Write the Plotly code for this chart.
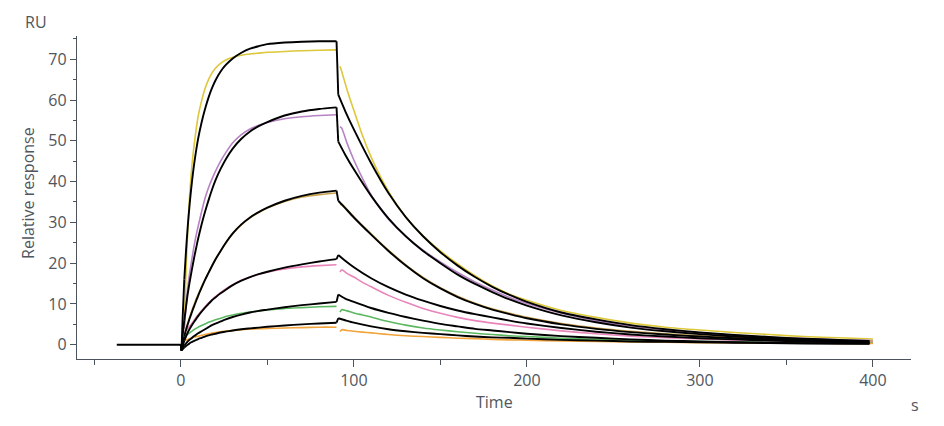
import plotly.graph_objects as go

# ---------------- data ----------------
BASE_T = [-37, 0]
BASE_V = [0, 0]

# measured (coloured) curves - association phase
T_DATA_ASSOC = [2, 3, 4, 5, 6, 7, 8, 9, 10, 12, 14, 16, 18, 20, 23, 26, 30, 35, 40, 45, 50, 60, 70, 80, 90]
YELLOW_ASSOC = [4, 18, 28, 36, 42, 46.5, 50, 53.2, 56, 59.8, 62.8, 65.0, 66.6, 67.8, 69.0, 69.8, 70.5, 71.0, 71.3, 71.5, 71.7, 71.9, 72.1, 72.2, 72.3]
PURPLE_ASSOC = [4, 9, 14, 17.2, 20, 22.6, 25, 27.1, 29, 32.6, 35.9, 38.5, 40.6, 42.5, 45, 47.1, 49.5, 51.5, 52.9, 53.8, 54.5, 55.4, 55.9, 56.2, 56.4]
TAN_ASSOC = [2.5, 3.9, 5.3, 6.6, 7.9, 9.1, 10.2, 11.3, 12.3, 14.2, 16.0, 17.7, 19.3, 20.9, 23.0, 24.9, 27.2, 29.4, 31.1, 32.4, 33.5, 35.1, 36.2, 36.8, 37.2]
PINK_ASSOC = [3, 3.5, 4, 4.5, 5, 5.6, 6.2, 6.8, 7.3, 8.3, 9.3, 10.2, 11.0, 11.8, 12.8, 13.7, 14.7, 15.8, 16.6, 17.3, 17.8, 18.6, 19.1, 19.4, 19.6]
GREEN_ASSOC = [2, 2.3, 2.6, 2.9, 3.2, 3.5, 3.8, 4.05, 4.3, 4.7, 5.1, 5.5, 5.8, 6.1, 6.5, 6.9, 7.3, 7.7, 8.0, 8.3, 8.5, 8.9, 9.1, 9.3, 9.4]
ORANGE_ASSOC = [1, 1.15, 1.3, 1.45, 1.6, 1.75, 1.9, 2.0, 2.1, 2.3, 2.5, 2.7, 2.85, 3.0, 3.2, 3.35, 3.5, 3.7, 3.8, 3.9, 4.0, 4.1, 4.2, 4.3, 4.3]

# measured (coloured) curves - dissociation phase
T_DATA_DISS = [92, 93, 96, 100, 105, 110, 115, 120, 130, 140, 150, 160, 170, 180, 190, 200,
               220, 240, 260, 280, 300, 320, 340, 360, 380, 400]
YELLOW_DISS = [68.3, 67.0, 62.6, 57.5, 51.3, 46.0, 41.5, 37.6, 31.3, 26.7, 23.0, 19.8, 16.9, 14.4, 12.4, 10.9,
               8.4, 6.7, 5.3, 4.3, 3.6, 3.0, 2.5, 2.0, 1.7, 1.4]
PURPLE_DISS = [53.5, 53.1, 49.5, 45.3, 40.8, 36.7, 33.5, 30.8, 26.6, 23.2, 20.3, 17.7, 15.4, 13.4, 11.6, 10.1,
               7.7, 5.9, 4.6, 3.6, 2.9, 2.3, 1.8, 1.5, 1.2, 1.0]
TAN_DISS = [34.3, 34.5, 33.2, 31.4, 29.2, 27.2, 25.1, 23.2, 19.6, 16.5, 14.0, 11.9, 10.2, 8.8, 7.7, 6.7,
            5.2, 4.1, 3.3, 2.7, 2.2, 1.8, 1.5, 1.2, 1.0, 0.9]
PINK_DISS = [17.8, 18.4, 17.5, 16.6, 15.3, 14.2, 13.1, 12.1, 10.4, 8.9, 7.7, 6.7, 5.9, 5.3, 4.8, 4.3,
             3.4, 2.7, 2.1, 1.7, 1.4, 1.1, 0.9, 0.8, 0.7, 0.6]
GREEN_DISS = [8.0, 8.6, 8.3, 7.8, 7.3, 6.8, 6.2, 5.7, 4.8, 4.1, 3.6, 3.2, 2.8, 2.5, 2.2, 2.0,
              1.6, 1.3, 1.1, 0.9, 0.8, 0.7, 0.6, 0.5, 0.5, 0.4]
ORANGE_DISS = [3.2, 3.7, 3.5, 3.3, 3.1, 2.9, 2.7, 2.5, 2.2, 2.0, 1.8, 1.6, 1.5, 1.3, 1.2, 1.1,
               0.9, 0.8, 0.7, 0.6, 0.5, 0.5, 0.4, 0.4, 0.3, 0.3]

# fitted (black) curves
T_FIT_ASSOC = [0, 0.4, 1, 2, 3, 4, 5, 6, 7, 8, 9, 10, 12, 14, 16, 18, 20, 23, 26, 30, 35, 40, 45, 50, 60, 70, 80, 90]
FIT1_ASSOC = [0, -1.4, 6, 16, 23, 29, 34, 38.3, 42, 45.2, 48, 50.5, 54.5, 57.8, 60.6, 62.9, 64.8, 67.0, 68.6, 70.2, 71.6, 72.6, 73.2, 73.7, 74.1, 74.3, 74.4, 74.4]
FIT2_ASSOC = [0, -1.4, 2, 6, 9.3, 12.5, 15.1, 17.5, 19.8, 22, 24, 26, 29.5, 32.6, 35.4, 38, 40.3, 43.1, 45.5, 48.1, 50.5, 52.3, 53.6, 54.6, 56.2, 57.2, 57.8, 58.2]
FIT3_ASSOC = [0, -1.4, 0, 2, 3.6, 5, 6.3, 7.5, 8.7, 9.8, 10.9, 12, 14, 15.9, 17.6, 19.3, 20.9, 23.0, 25.0, 27.3, 29.5, 31.2, 32.5, 33.6, 35.3, 36.5, 37.3, 37.8]
FIT4_ASSOC = [0, -1.4, -0.5, 1.0, 2.0, 3.0, 3.8, 4.5, 5.2, 5.8, 6.4, 7.0, 8.1, 9.1, 10.0, 10.9, 11.6, 12.6, 13.5, 14.6, 15.7, 16.6, 17.3, 17.9, 18.9, 19.7, 20.4, 21.0]
FIT5_ASSOC = [0, -1.4, -0.9, -0.2, 0.3, 0.8, 1.2, 1.5, 1.9, 2.2, 2.5, 2.8, 3.3, 3.8, 4.3, 4.8, 5.2, 5.7, 6.2, 6.8, 7.4, 7.9, 8.3, 8.6, 9.2, 9.7, 10.1, 10.5]
FIT6_ASSOC = [0, -1.4, -1.1, -0.7, -0.3, 0, 0.3, 0.6, 0.8, 1.0, 1.2, 1.4, 1.7, 2.0, 2.3, 2.5, 2.7, 3.0, 3.2, 3.5, 3.8, 4.0, 4.2, 4.4, 4.7, 5.0, 5.2, 5.4]

T_FIT_DISS = [90, 91, 95, 100, 110, 120, 130, 140, 150, 160, 170, 180, 190, 200,
              220, 240, 260, 280, 300, 320, 340, 360, 380, 398]
FIT1_DISS = [74.4, 61.3, 57.3, 52.8, 44.5, 37.2, 31.3, 26.6, 22.7, 19.4, 16.6, 14.2, 12.2, 10.5,
             7.9, 6.2, 4.8, 3.8, 3.0, 2.4, 1.9, 1.5, 1.2, 0.9]
FIT2_DISS = [58.2, 49.8, 46.6, 43.0, 36.5, 31.0, 26.6, 23.0, 20.0, 17.2, 14.9, 12.9, 11.1, 9.6,
             7.2, 5.5, 4.2, 3.3, 2.6, 2.0, 1.6, 1.2, 1.0, 0.8]
FIT3_DISS = [37.8, 35.3, 33.5, 31.2, 27.0, 23.0, 19.4, 16.3, 13.8, 11.7, 10.0, 8.6, 7.5, 6.5,
             5.0, 3.9, 3.1, 2.5, 2.0, 1.6, 1.3, 1.0, 0.8, 0.6]
FIT4_DISS = [21.0, 22.0, 20.6, 19.0, 16.3, 14.1, 12.3, 10.8, 9.5, 8.4, 7.5, 6.7, 5.9, 5.2,
             4.1, 3.2, 2.5, 2.0, 1.6, 1.3, 1.0, 0.8, 0.6, 0.5]
FIT5_DISS = [10.5, 12.3, 11.3, 10.5, 9.0, 7.8, 6.8, 5.9, 5.1, 4.5, 3.9, 3.5, 3.1, 2.7,
             2.1, 1.7, 1.3, 1.0, 0.8, 0.6, 0.5, 0.4, 0.3, 0.3]
FIT6_DISS = [5.4, 6.5, 6.0, 5.4, 4.5, 3.8, 3.3, 2.9, 2.6, 2.3, 2.0, 1.8, 1.7, 1.5,
             1.2, 1.0, 0.8, 0.7, 0.6, 0.5, 0.4, 0.3, 0.3, 0.2]

X_TICKS = [0, 100, 200, 300, 400]
Y_TICKS = [0, 10, 20, 30, 40, 50, 60, 70]

# ---------------- styling ----------------
COLORS = ["#dcc83a", "#b683c4", "#c9a24e", "#e985bb", "#5cb860", "#f2a33a"]
AXIS_COLOR = "#4b535c"
TEXT_COLOR = "#50565d"
FONT = "Open Sans"
FS = 16
SMOOTH = 0.6

data_assoc = [YELLOW_ASSOC, PURPLE_ASSOC, TAN_ASSOC, PINK_ASSOC, GREEN_ASSOC, ORANGE_ASSOC]
data_diss = [YELLOW_DISS, PURPLE_DISS, TAN_DISS, PINK_DISS, GREEN_DISS, ORANGE_DISS]
fit_assoc = [FIT1_ASSOC, FIT2_ASSOC, FIT3_ASSOC, FIT4_ASSOC, FIT5_ASSOC, FIT6_ASSOC]
fit_diss = [FIT1_DISS, FIT2_DISS, FIT3_DISS, FIT4_DISS, FIT5_DISS, FIT6_DISS]

fig = go.Figure()


def add_line(x, y, color, width, shape="linear"):
    line = dict(color=color, width=width, shape=shape)
    if shape == "spline":
        line["smoothing"] = SMOOTH
    fig.add_trace(go.Scatter(x=x, y=y, mode="lines", line=line, hoverinfo="skip"))


for c, va, vd in zip(COLORS, data_assoc, data_diss):
    add_line(T_DATA_ASSOC, va, c, 1.6, "spline")
    add_line(T_DATA_DISS, vd, c, 1.6, "spline")

add_line(BASE_T, BASE_V, "black", 2)
for fa, fd in zip(fit_assoc, fit_diss):
    # injection start (dip) drawn straight, then smooth association
    add_line(T_FIT_ASSOC[:4], fa[:4], "black", 1.9)
    add_line(T_FIT_ASSOC[3:], fa[3:], "black", 1.9, "spline")
    # step at end of injection, then smooth dissociation
    add_line(T_FIT_DISS[:2], fd[:2], "black", 1.9)
    add_line(T_FIT_DISS[1:], fd[1:], "black", 1.9, "spline")

fig.update_layout(
    width=944, height=426,
    margin=dict(l=77, r=33, t=36, b=67),
    paper_bgcolor="white", plot_bgcolor="white",
    showlegend=False,
    font=dict(family=FONT, color=TEXT_COLOR, size=FS),
)

fig.update_xaxes(
    range=[-60, 422], tickvals=X_TICKS, showgrid=False, zeroline=False,
    showline=True, linecolor=AXIS_COLOR, linewidth=1.3,
    ticks="outside", ticklen=7, tickwidth=1.3, tickcolor=AXIS_COLOR,
    tickfont=dict(size=FS, color=TEXT_COLOR, family=FONT),
    minor=dict(dtick=50, tick0=0, ticks="outside", ticklen=5, tickwidth=1.2, tickcolor=AXIS_COLOR, showgrid=False),
)
fig.update_yaxes(
    range=[-3.5, 75.7], tickvals=Y_TICKS, showgrid=False, zeroline=False,
    showline=True, linecolor=AXIS_COLOR, linewidth=1.3,
    ticks="outside", ticklen=6, tickwidth=1.3, tickcolor=AXIS_COLOR,
    tickfont=dict(size=FS, color=TEXT_COLOR, family=FONT),
    minor=dict(dtick=5, tick0=0, ticks="outside", ticklen=3, tickwidth=1.2, tickcolor=AXIS_COLOR, showgrid=False),
)

ann_font = dict(size=FS, color=TEXT_COLOR, family=FONT)
fig.add_annotation(text="RU", xref="paper", yref="paper", x=-0.049, y=1.043,
                   xanchor="center", yanchor="middle", showarrow=False, font=ann_font)
fig.add_annotation(text="Relative response", xref="paper", yref="paper", x=-0.0588, y=0.514,
                   xanchor="center", yanchor="middle", textangle=-90, showarrow=False, font=ann_font)
fig.add_annotation(text="Time", xref="paper", yref="paper", x=0.501, y=-0.133,
                   xanchor="center", yanchor="middle", showarrow=False, font=ann_font)
fig.add_annotation(text="s", xref="paper", yref="paper", x=1.005, y=-0.142,
                   xanchor="center", yanchor="middle", showarrow=False, font=ann_font)

fig.write_html("out.html")
